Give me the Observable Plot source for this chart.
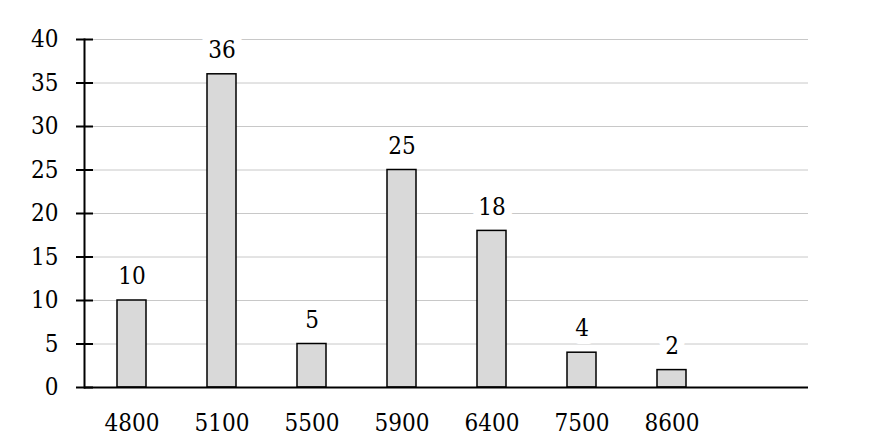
<!DOCTYPE html>
<html>
<head>
<meta charset="utf-8">
<script src="https://cdn.jsdelivr.net/npm/d3@7"></script>
<script src="https://cdn.jsdelivr.net/npm/@observablehq/plot@0.6"></script>
<style>
html,body{margin:0;padding:0;background:#fff;}
</style>
</head>
<body>
<div id="chart"></div>
<script>
const categories = ["4800","5100","5500","5900","6400","7500","8600"];
const counts = [10, 36, 5, 25, 18, 4, 2];
const yTicks = [0,5,10,15,20,25,30,35,40];

const data = categories.map((c, i) => ({cat: c, n: counts[i]}));
const domain = [...categories, " "];
const font = "'DejaVu Serif Condensed', 'DejaVu Serif', serif";

const chart = Plot.plot({
  width: 884,
  height: 439,
  marginLeft: 84,
  marginRight: 76,
  marginTop: 39,
  marginBottom: 52,
  style: {fontFamily: font, fontSize: "24px", background: "#fff", color: "#000"},
  x: {domain, paddingInner: 0.68, paddingOuter: 0.34, label: null},
  y: {domain: [0, 40], label: null},
  marks: [
    Plot.gridY(yTicks, {stroke: "#c8c8c8", strokeOpacity: 1, strokeWidth: 1}),
    Plot.barY(data, {x: "cat", y: "n", fill: "#d9d9d9", stroke: "#000", strokeWidth: 1.5}),
    Plot.text(data, {x: "cat", y: "n", text: d => String(d.n), dy: -24, lineAnchor: "middle",
      fill: "#000", stroke: "#fff", strokeWidth: 16, strokeLinejoin: "round", fontSize: 24}),
    Plot.ruleY([0], {stroke: "#000", strokeWidth: 2}),
    Plot.frame({anchor: "left", stroke: "#000", strokeWidth: 2}),
    Plot.axisY(yTicks, {anchor: "left", tickSize: 8, tickPadding: 18, strokeWidth: 2, stroke: "#000", label: null, fontSize: 24}),
    Plot.axisY(yTicks, {anchor: "left", tickSize: -9, tickFormat: () => "", strokeWidth: 2, stroke: "#000", label: null}),
    Plot.axisX(categories, {anchor: "bottom", tickSize: 0, tickPadding: 26, label: null, fontSize: 24})
  ]
});
document.getElementById("chart").appendChild(chart);
</script>
</body>
</html>
